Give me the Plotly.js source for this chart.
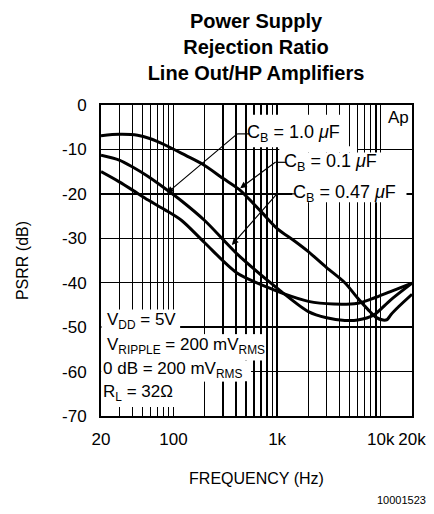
<!DOCTYPE html>
<html>
<head>
<meta charset="utf-8">
<script src="https://cdn.plot.ly/plotly-3.0.1.min.js"></script>
<style>html,body{margin:0;padding:0;background:#fff;}#chart{width:434px;height:514px;}</style>
</head>
<body>
<div id="chart"></div>
<script>
// ---- data ----
const tickFreqs = [20,100,1000,10000,20000];
const tickLabels = ['20','100','1k','10k','20k'];
const minorFreqs = [30,40,50,60,70,80,90,200,300,400,500,600,700,800,900,2000,3000,4000,5000,6000,7000,8000,9000];
const yTicks = [0,-10,-20,-30,-40,-50,-60,-70];
const yLabels = ['0','-10','-20','-30','-40','-50','-60','-70'];

// C_B = 0.1 uF (upper curve)
const freqCb01 = [20,30,45,60,83,130,190,300,430,700,1000,1450,2000,3000,4500,6000,7500,9000,10500,11500,12500,15000,20000];
const psrrCb01 = [-6.9,-6.6,-6.8,-7.6,-9.0,-11.3,-13.3,-16.5,-19.0,-24.0,-27.8,-30.5,-33.0,-36.6,-40.0,-43.5,-46.0,-47.8,-48.4,-48.3,-47.2,-45.3,-42.6];
// C_B = 1.0 uF (middle curve at low frequency)
const freqCb10 = [20,30,40,57,83,120,200,410,860,1100,2000,3000,4500,6000,8500,12400,20000];
const psrrCb10 = [-11.3,-12.4,-13.9,-16.1,-18.8,-21.6,-26.0,-33.5,-40.0,-42.0,-46.5,-47.9,-48.5,-48.4,-47.3,-43.9,-40.1];
// C_B = 0.47 uF (lower curve at low frequency)
const freqCb047 = [20,30,40,57,83,120,200,410,860,1100,2000,3500,6000,8500,12400,20000];
const psrrCb047 = [-15.0,-17.3,-19.1,-21.4,-23.6,-26.0,-31.0,-37.8,-41.3,-42.3,-44.2,-44.8,-44.6,-43.5,-42.0,-40.1];

const FONT = 'Liberation Sans, Arial, sans-serif';
const lg = v => Math.log10(v);

const lineStyle = {color:'#000', width:3, shape:'spline', smoothing:0.8};
const traces = [
  {x:freqCb01, y:psrrCb01, mode:'lines', name:'C_B = 0.1 µF', line:lineStyle, hoverinfo:'skip'},
  {x:freqCb10, y:psrrCb10, mode:'lines', name:'C_B = 1.0 µF', line:lineStyle, hoverinfo:'skip'},
  {x:freqCb047, y:psrrCb047, mode:'lines', name:'C_B = 0.47 µF', line:lineStyle, hoverinfo:'skip'}
];

const txt = {family:FONT, size:17, color:'#000'};
const txtBig = {family:FONT, size:18, color:'#000'};
function label(text, fx, db, extra){
  return Object.assign({xref:'x', yref:'y', x:lg(fx), y:db, text:text, showarrow:false,
    xanchor:'left', yanchor:'middle', font:txt, borderpad:0}, extra||{});
}
// label text with an arrow: arrow runs from tail (leader start) to the tip on a curve,
// the text starts `gap` pixels right of the tail (borderpad), joined by a leader line shape.
function arrowLabel(text, tipF, tipDb, tailF, tailDb, gap){
  return {xref:'x', yref:'y', axref:'x', ayref:'y', x:lg(tipF), y:tipDb, ax:lg(tailF), ay:tailDb,
    text:text, font:txtBig, xanchor:'left', yanchor:'middle', borderpad:gap,
    showarrow:true, arrowhead:2, arrowsize:1.1, arrowwidth:1.2, arrowcolor:'#000', standoff:0};
}
function white(x0,x1,y0,y1){
  return {type:'rect', xref:'x', yref:'y', x0:x0, x1:x1, y0:y0, y1:y1, fillcolor:'#fff', line:{width:0}, layer:'between'};
}
function leader(x0,x1,y){
  return {type:'line', xref:'x', yref:'y', x0:x0, x1:x1, y0:y, y1:y, line:{color:'#000', width:1.2}, layer:'above'};
}

const annotations = [
  arrowLabel('C<sub>B</sub> = 1.0 <i>μ</i>F', 86.8, -19.8, 412, -6.5, 9),
  arrowLabel('C<sub>B</sub> = 0.1 <i>μ</i>F', 440, -18.75, 960, -12.9, 8),
  arrowLabel('C<sub>B</sub> = 0.47 <i>μ</i>F', 366, -31.5, 995, -20.0, 15),
  label('Ap', 14830, -2.7, {xanchor:'center'}),
  label('V<sub>DD</sub> = 5V', 22.5, -48.6, {bgcolor:'#fff'}),
  label('V<sub>RIPPLE</sub> = 200 mV<sub>RMS</sub>', 22.5, -54.2, {bgcolor:'#fff'}),
  label('0 dB = 200 mV<sub>RMS</sub>', 20.6, -59.6, {bgcolor:'#fff'}),
  label('R<sub>L</sub> = 32Ω', 20.6, -64.8, {bgcolor:'#fff'}),
  {xref:'paper', yref:'paper', x:(428-101)/310.7, y:-(500-416)/311, xanchor:'right', yanchor:'middle',
   text:'10001523', showarrow:false, font:{family:FONT, size:11, color:'#000'}}
];

const shapes = [
  white(550, 4900, -2.2, -9.5),
  white(1050, 5900, -9.3, -10.7),
  white(1050, 19800, -10.7, -19.6),
  white(1400, 17700, -19.6, -21.9),
  white(20.2, 116, -46.4, -68.0),
  white(20.2, 730, -51.6, -57.5),
  white(20.2, 560, -57.5, -62.2),
  leader(412, 540, -6.5),
  leader(960, 1220, -12.9),
  leader(995, 1500, -20.0)
];

const layout = {
  width:434, height:514,
  margin:{l:101, r:22.3, t:105, b:98},
  paper_bgcolor:'#fff', plot_bgcolor:'#fff',
  showlegend:false,
  title:{text:'<b>Power Supply<br>Rejection Ratio<br>Line Out/HP Amplifiers</b>',
         font:{family:FONT, size:20, color:'#000'}, x:256/434, xanchor:'center', xref:'container',
         y:1-28/514, yanchor:'top', yref:'container'},
  xaxis:{type:'log', range:[lg(20), lg(20000)], tickmode:'array', tickvals:tickFreqs, ticktext:tickLabels,
         showgrid:true, gridcolor:'#000', gridwidth:1.4, zeroline:false,
         minor:{tickmode:'array', tickvals:minorFreqs, showgrid:true, gridcolor:'#000', gridwidth:1.4, ticks:''},
         showline:true, linecolor:'#000', linewidth:2, mirror:true, ticks:'', ticklabelstandoff:7,
         tickfont:{family:FONT, size:17, color:'#000'},
         title:{text:'FREQUENCY (Hz)', font:{family:FONT, size:16, color:'#000'}, standoff:24}},
  yaxis:{range:[-70,0], tickmode:'array', tickvals:yTicks, ticktext:yLabels,
         showgrid:true, gridcolor:'#000', gridwidth:1.4, zeroline:false,
         showline:true, linecolor:'#000', linewidth:2, mirror:true, ticks:'', ticklabelstandoff:9,
         tickfont:{family:FONT, size:17, color:'#000'},
         title:{text:'PSRR (dB)', font:{family:FONT, size:16, color:'#000'}, standoff:29}},
  annotations:annotations,
  shapes:shapes
};

Plotly.newPlot('chart', traces, layout, {staticPlot:true, displayModeBar:false});
</script>
</body>
</html>
